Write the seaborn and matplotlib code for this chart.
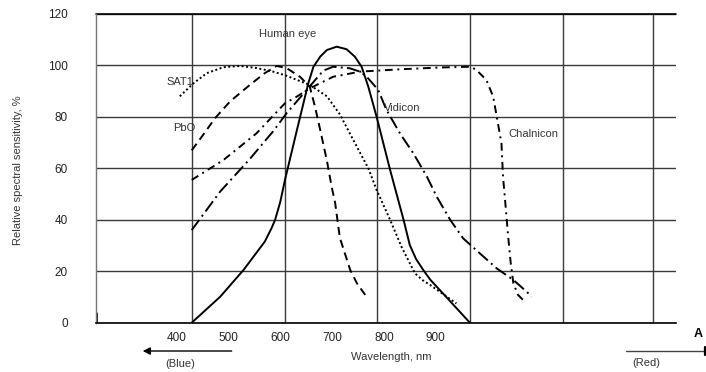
import matplotlib
matplotlib.use("Agg")
import matplotlib.pyplot as plt
import seaborn as sns
import pandas as pd
from matplotlib.lines import Line2D

# ---------------- data ----------------
human_x = [429, 484, 529, 570, 583, 590, 600, 609, 632, 654, 664, 677, 690, 709, 728, 744, 757, 770, 786, 812, 838, 850, 862, 876, 890, 908, 966]
human_y = [0, 10.1, 20.5, 31.5, 36.7, 40, 47, 55.5, 74.8, 93, 99.5, 103.4, 106, 107.3, 106.3, 103.4, 99.5, 91.7, 80, 59.4, 40, 30.2, 24.8, 20.5, 16.6, 12.7, 0]

sat1_x = [406, 432, 458, 490, 522, 554, 586, 612, 657, 690, 715, 741, 770, 786, 812, 834, 860, 875, 889, 940]
sat1_y = [88, 93, 97, 99.3, 99.8, 99, 97.6, 96, 92.4, 88, 81, 71, 60, 51.6, 40, 29.5, 19.2, 16.5, 14.7, 7.5]

pbo_x = [429, 451, 474, 503, 541, 570, 593, 612, 638, 657, 667, 677, 690, 699, 706, 715, 735, 748, 764]
pbo_y = [67, 73, 79.5, 86, 92.4, 97, 99.8, 99, 95.6, 91.7, 84, 75, 63, 53, 46.4, 33, 20.5, 15.3, 10.8]

vidicon_x = [429, 484, 541, 587, 612, 651, 683, 702, 734, 754, 767, 789, 805, 831, 857, 883, 902, 928, 953, 985, 1018, 1050, 1076, 1085]
vidicon_y = [36, 51, 63.6, 74.6, 81.4, 90.5, 98, 99.5, 98.9, 97.6, 95.6, 90.5, 82.7, 73.6, 65.8, 56.8, 49, 40, 32.8, 27, 21.1, 16.6, 12, 10.1]

chalnicon_x = [429, 490, 554, 609, 632, 657, 702, 754, 831, 908, 967, 979, 998, 1011, 1018, 1027, 1030, 1034, 1040, 1045, 1050, 1059, 1069]
chalnicon_y = [55.5, 63.2, 73.6, 85.3, 87.9, 91.1, 95.6, 97.6, 98.5, 99.2, 99.5, 98.2, 94.3, 87.9, 80, 69.7, 56.8, 47.7, 33.4, 23, 15.3, 10.8, 8.8]

series_names = ["Human eye", "SAT1", "PbO", "Vidicon", "Chalnicon"]
x_ticks = [400, 500, 600, 700, 800, 900]
y_ticks = [0, 20, 40, 60, 80, 100, 120]
v_grid = [429, 609, 787, 967, 1145, 1319]
x_limits = (243.6, 1364)

frames = []
for name, xs, ys in zip(series_names,
                        [human_x, sat1_x, pbo_x, vidicon_x, chalnicon_x],
                        [human_y, sat1_y, pbo_y, vidicon_y, chalnicon_y]):
    frames.append(pd.DataFrame({"wl": xs, "sens": ys, "sensor": name}))
df = pd.concat(frames, ignore_index=True)

# ---------------- styling ----------------
sns.set_theme(style="white")
plt.rcParams["font.family"] = ["Liberation Sans", "DejaVu Sans"]

fig = plt.figure(figsize=(7.06, 3.72), dpi=100)
ax = fig.add_axes([95.7 / 706, 49.3 / 372, (676 - 95.7) / 706, (322.7 - 14) / 372])

palette = {n: "black" for n in series_names}
dashes = {
    "Human eye": "",
    "SAT1": (1, 1.3),
    "PbO": (4.2, 2.6),
    "Vidicon": (6.5, 2.2, 1, 2.2),
    "Chalnicon": (4, 2.4, 1, 2.4),
}
sns.lineplot(data=df, x="wl", y="sens", hue="sensor", style="sensor",
             palette=palette, dashes=dashes, estimator=None, sort=False,
             linewidth=1.4, legend=False, ax=ax, zorder=3)

ax.set_xlim(*x_limits)
ax.set_ylim(0, 120)
ax.set_xticks(x_ticks)
ax.set_xticklabels([str(t) for t in x_ticks])
ax.set_yticks(y_ticks)
ax.set_yticklabels([str(t) for t in y_ticks])
ax.tick_params(axis="x", length=0, pad=7, labelsize=8.5, labelcolor="#222222")
ax.tick_params(axis="y", direction="in", length=4, width=1.3, color="black",
               pad=20, labelsize=8.5, labelcolor="#222222")
ax.set_xlabel("")
ax.set_ylabel("")

ax.yaxis.grid(True, color="#3a3a3a", linewidth=1.0)
ax.xaxis.grid(False)
ax.vlines(v_grid, 0, 120, colors="#3a3a3a", linewidth=1.0, zorder=1)

for s in ["top", "right"]:
    ax.spines[s].set_visible(False)
ax.spines["left"].set_color("#777777")
ax.spines["left"].set_linewidth(1.0)
ax.spines["bottom"].set_color("black")
ax.spines["bottom"].set_linewidth(1.2)
ax.axhline(120, color="black", linewidth=1.2, clip_on=False)
ax.axvline(x_limits[0], ymin=0, ymax=0.03, color="black", linewidth=2)

# curve labels
tc = "#333333"
ax.text(615, 112.2, "Human eye", ha="center", va="center", fontsize=8, color=tc)
ax.text(406, 93.6, "SAT1", ha="center", va="center", fontsize=8, color=tc)
ax.text(415, 75.6, "PbO", ha="center", va="center", fontsize=8, color=tc)
ax.text(836, 83.3, "Vidicon", ha="center", va="center", fontsize=8, color=tc)
ax.text(1088, 73.4, "Chalnicon", ha="center", va="center", fontsize=8, color=tc)

# figure-level texts
H = 372.0
W = 706.0
fig.text(18 / W, 1 - 170 / H, "Relative spectral sensitivity, %", rotation=90,
         ha="center", va="center", fontsize=8, color=tc)
fig.text(391.7 / W, 1 - 356.7 / H, "Wavelength, nm", ha="center", va="center",
         fontsize=8, color=tc)
fig.text(180 / W, 1 - 364.3 / H, "(Blue)", ha="center", va="center", fontsize=8, color=tc)
fig.text(646 / W, 1 - 363.5 / H, "(Red)", ha="center", va="center", fontsize=8, color=tc)
fig.text(698 / W, 1 - 334 / H, "A", ha="center", va="center", fontsize=9,
         fontweight="bold", color="black")

ax.annotate("", xy=(142.7, H - 351), xytext=(231.7, H - 351),
            xycoords="figure pixels", textcoords="figure pixels",
            arrowprops=dict(arrowstyle="-|>", color="black", lw=1.0,
                            mutation_scale=11, shrinkA=0, shrinkB=0))
fig.add_artist(Line2D([626 / W, 705 / W], [1 - 351 / H, 1 - 351 / H],
                      transform=fig.transFigure, color="#444444", lw=1.0))
fig.add_artist(Line2D([705 / W, 705 / W], [1 - 347 / H, 1 - 355 / H],
                      transform=fig.transFigure, color="black", lw=1.6))

fig.savefig("out.png", dpi=100)
